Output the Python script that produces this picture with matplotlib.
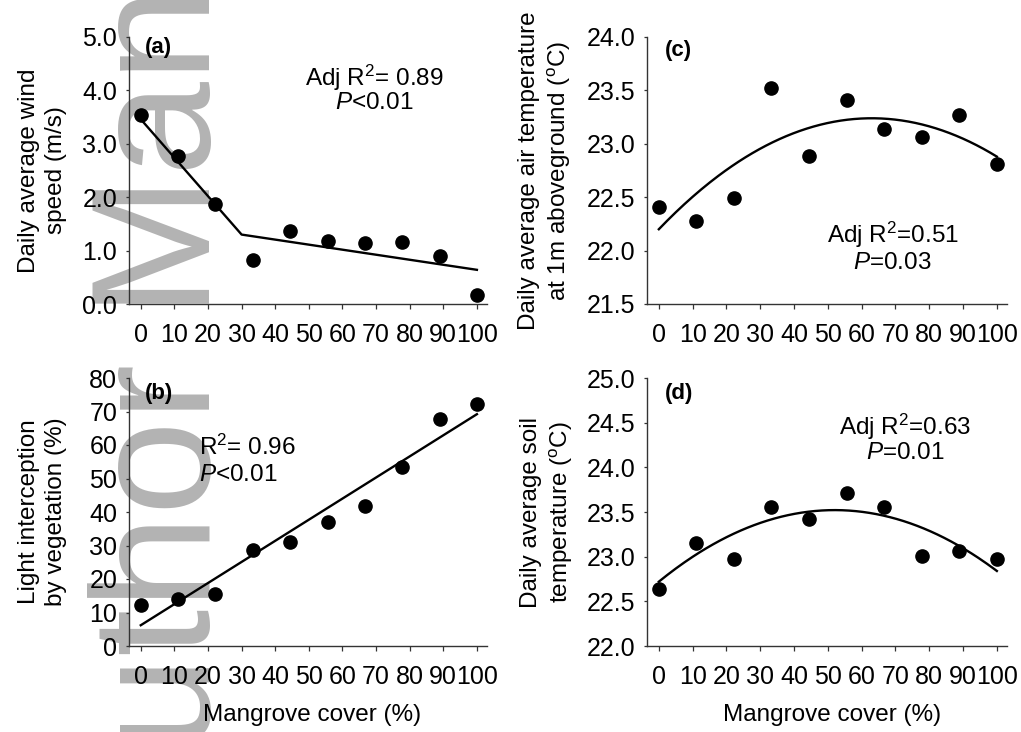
import numpy as np
import matplotlib
matplotlib.use("Agg")
import matplotlib.pyplot as plt

plt.rcParams['font.family'] = ['Liberation Sans', 'DejaVu Sans']
plt.rcParams['mathtext.fontset'] = 'custom'
plt.rcParams['mathtext.rm'] = 'Liberation Sans'
plt.rcParams['mathtext.it'] = 'Liberation Sans:italic'
plt.rcParams['mathtext.bf'] = 'Liberation Sans:bold'

# ---------------- data ----------------
cover = [0, 11.1, 22.2, 33.3, 44.4, 55.6, 66.7, 77.8, 88.9, 100]

wind_speed = [3.53, 2.77, 1.88, 0.82, 1.37, 1.18, 1.15, 1.17, 0.90, 0.17]
wind_fit_x = [0, 30, 100]
wind_fit_y = [3.46, 1.30, 0.64]

light_int = [12.2, 13.9, 15.5, 28.6, 30.9, 37.1, 41.9, 53.3, 67.7, 72.2]
light_fit = [6.2, 0.630]            # intercept, slope

air_temp = [22.41, 22.28, 22.49, 23.52, 22.89, 23.41, 23.14, 23.06, 23.27, 22.81]
air_fit = [22.20, 0.0330, -2.62e-4]  # a + b x + c x^2

soil_temp = [22.64, 23.15, 22.97, 23.56, 23.42, 23.71, 23.56, 23.01, 23.06, 22.97]
soil_fit = [22.72, 0.0308, -2.96e-4]

x_ticks = list(range(0, 101, 10))

# ---------------- figure ----------------
W, H = 1021, 732
fig = plt.figure(figsize=(W / 100, H / 100), dpi=100)

# watermark
fig.text(210 / W, 1 - 863 / H, "Author Manuscript", rotation=90,
         rotation_mode='anchor', ha='left', va='baseline',
         fontsize=122, color='#b3b3b3', zorder=-5)

def px_axes(l, t, r, b):
    return [l / W, 1 - b / H, (r - l) / W, (b - t) / H]

ax_a = fig.add_axes(px_axes(129, 37, 487, 304))
ax_b = fig.add_axes(px_axes(129, 378, 487, 646))
ax_c = fig.add_axes(px_axes(647, 37, 1007, 304))
ax_d = fig.add_axes(px_axes(647, 378, 1007, 646))

spine_col = '#333333'
tick_fs = 18
lab_fs = 17.5
ann_fs = 17.5
pan_fs = 16

for ax in (ax_a, ax_b, ax_c, ax_d):
    ax.patch.set_alpha(0)
    for s in ('top', 'right'):
        ax.spines[s].set_visible(False)
    for s in ('left', 'bottom'):
        ax.spines[s].set_color(spine_col)
        ax.spines[s].set_linewidth(1.0)
    ax.set_xlim(-3.5, 103)
    ax.set_xticks(x_ticks)
    ax.tick_params(axis='x', direction='out', length=3.5, width=0.9,
                   color=spine_col, labelsize=tick_fs, pad=10)
    ax.tick_params(axis='y', direction='out', length=2.5, width=0.9,
                   color=spine_col, labelsize=tick_fs, pad=6)

xs = np.linspace(0, 100, 200)
mk = dict(marker='o', linestyle='none', color='black', markersize=9.5, zorder=3)
ln = dict(color='black', linewidth=1.7, zorder=2)

# (a)
ax_a.plot(wind_fit_x, wind_fit_y, **ln)
ax_a.plot(cover, wind_speed, **mk)
ax_a.set_ylim(0, 5)
ax_a.set_yticks(np.arange(0, 5.01, 1.0))
ax_a.set_yticklabels([f"{v:.1f}" for v in np.arange(0, 5.01, 1.0)])
ax_a.set_ylabel("Daily average wind\nspeed (m/s)", fontsize=lab_fs, linespacing=1.3)
ax_a.yaxis.set_label_coords(-0.172, 0.5)
ax_a.text(0.045, 0.959, "(a)", transform=ax_a.transAxes, fontsize=pan_fs,
          fontweight='bold', ha='left', va='center')
ax_a.text(0.684, 0.846, r"Adj R$^2$= 0.89", transform=ax_a.transAxes,
          fontsize=ann_fs, ha='center', va='center')
ax_a.text(0.684, 0.753, r"$P$<0.01", transform=ax_a.transAxes,
          fontsize=ann_fs, ha='center', va='center')

# (b)
ax_b.plot(xs, light_fit[0] + light_fit[1] * xs, **ln)
ax_b.plot(cover, light_int, **mk)
ax_b.set_ylim(0, 80)
ax_b.set_yticks(range(0, 81, 10))
ax_b.set_ylabel("Light interception\nby vegetation (%)", fontsize=lab_fs, linespacing=1.3)
ax_b.yaxis.set_label_coords(-0.172, 0.5)
ax_b.set_xlabel("Mangrove cover (%)", fontsize=lab_fs)
ax_b.xaxis.set_label_coords(0.51, -0.215)
ax_b.text(0.045, 0.944, "(b)", transform=ax_b.transAxes, fontsize=pan_fs,
          fontweight='bold', ha='left', va='center')
ax_b.text(0.196, 0.743, r"R$^2$= 0.96", transform=ax_b.transAxes,
          fontsize=ann_fs, ha='left', va='center')
ax_b.text(0.196, 0.638, r"$P$<0.01", transform=ax_b.transAxes,
          fontsize=ann_fs, ha='left', va='center')

# (c)
ax_c.plot(xs, air_fit[0] + air_fit[1] * xs + air_fit[2] * xs ** 2, **ln)
ax_c.plot(cover, air_temp, **mk)
ax_c.set_ylim(21.5, 24.0)
yt = np.arange(21.5, 24.01, 0.5)
ax_c.set_yticks(yt)
ax_c.set_yticklabels([f"{v:.1f}" for v in yt])
ax_c.set_ylabel("Daily average air temperature\nat 1m aboveground ($^{\\mathrm{o}}$C)",
                fontsize=lab_fs, linespacing=1.3)
ax_c.yaxis.set_label_coords(-0.205, 0.5)
ax_c.text(0.05, 0.951, "(c)", transform=ax_c.transAxes, fontsize=pan_fs,
          fontweight='bold', ha='left', va='center')
ax_c.text(0.682, 0.258, r"Adj R$^2$=0.51", transform=ax_c.transAxes,
          fontsize=ann_fs, ha='center', va='center')
ax_c.text(0.682, 0.154, r"$P$=0.03", transform=ax_c.transAxes,
          fontsize=ann_fs, ha='center', va='center')

# (d)
ax_d.plot(xs, soil_fit[0] + soil_fit[1] * xs + soil_fit[2] * xs ** 2, **ln)
ax_d.plot(cover, soil_temp, **mk)
ax_d.set_ylim(22.0, 25.0)
yt = np.arange(22.0, 25.01, 0.5)
ax_d.set_yticks(yt)
ax_d.set_yticklabels([f"{v:.1f}" for v in yt])
ax_d.set_ylabel("Daily average soil\ntemperature ($^{\\mathrm{o}}$C)",
                fontsize=lab_fs, linespacing=1.3)
ax_d.yaxis.set_label_coords(-0.200, 0.5)
ax_d.set_xlabel("Mangrove cover (%)", fontsize=lab_fs)
ax_d.xaxis.set_label_coords(0.515, -0.215)
ax_d.text(0.05, 0.944, "(d)", transform=ax_d.transAxes, fontsize=pan_fs,
          fontweight='bold', ha='left', va='center')
ax_d.text(0.717, 0.817, r"Adj R$^2$=0.63", transform=ax_d.transAxes,
          fontsize=ann_fs, ha='center', va='center')
ax_d.text(0.717, 0.720, r"$P$=0.01", transform=ax_d.transAxes,
          fontsize=ann_fs, ha='center', va='center')

fig.savefig("out.png", dpi=100)
